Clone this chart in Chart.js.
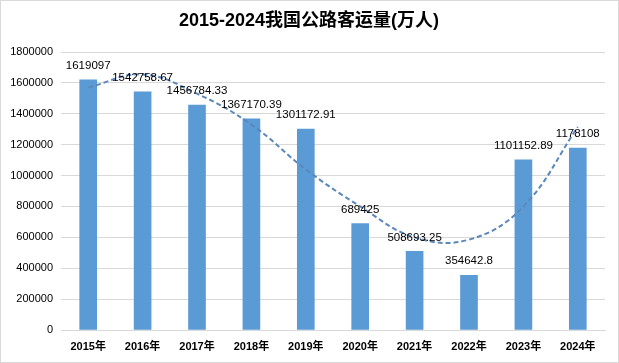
<!DOCTYPE html>
<html><head><meta charset="utf-8">
<script src="https://cdn.jsdelivr.net/npm/chart.js@4"></script>
<style>
html,body{margin:0;padding:0;background:#fff;}
#wrap{position:relative;width:619px;height:363px;}
canvas{display:block;}
</style></head>
<body><div id="wrap"><canvas id="c" width="619" height="363"></canvas></div>
<script>
const titleText = "2015-2024我国公路客运量(万人)";
const categories = ["2015年","2016年","2017年","2018年","2019年","2020年","2021年","2022年","2023年","2024年"];
const passengerVolume = [1619097, 1542758.67, 1456784.33, 1367170.39, 1301172.91, 689425, 508693.25, 354642.8, 1101152.89, 1178108];
const trendValues = [1570000, 1655000, 1530000, 1330000, 1040000, 800000, 600000, 585000, 800000, 1315000];
const yTicks = [0, 200000, 400000, 600000, 800000, 1000000, 1200000, 1400000, 1600000, 1800000];

const numFont = '"Liberation Sans", "Noto Sans CJK SC", sans-serif';

const framePlugin = {
  id: 'frame',
  beforeDraw(chart) {
    const ctx = chart.ctx;
    ctx.save();
    ctx.fillStyle = '#fff';
    ctx.fillRect(0, 0, chart.width, chart.height);
    ctx.strokeStyle = '#d9d9d9';
    ctx.lineWidth = 1;
    ctx.strokeRect(0.5, 0.5, chart.width - 1, chart.height - 1);
    ctx.fillStyle = '#000';
    ctx.font = 'bold 18px ' + numFont;
    ctx.textAlign = 'center';
    ctx.textBaseline = 'middle';
    ctx.fillText(titleText, 309, 21);
    ctx.restore();
  }
};

const labelPlugin = {
  id: 'barLabels',
  afterDatasetsDraw(chart) {
    const ctx = chart.ctx;
    const meta = chart.getDatasetMeta(0);
    ctx.save();
    ctx.fillStyle = '#000';
    ctx.font = '11.5px ' + numFont;
    ctx.textAlign = 'center';
    ctx.textBaseline = 'middle';
    meta.data.forEach((bar, i) => {
      ctx.fillText(String(passengerVolume[i]), bar.x, bar.y - 14);
    });
    ctx.restore();
  }
};

new Chart(document.getElementById('c'), {
  data: {
    labels: categories,
    datasets: [
      {
        type: 'bar',
        data: passengerVolume,
        backgroundColor: '#5b9bd5',
        barThickness: 17,
        order: 2
      },
      {
        type: 'line',
        data: trendValues,
        borderColor: '#5b87bb',
        borderWidth: 2,
        borderDash: [5, 3],
        pointRadius: 0,
        tension: 0.4,
        fill: false,
        order: 1
      }
    ]
  },
  options: {
    responsive: false,
    animation: false,
    layout: { padding: { top: 52, right: 14, left: 0, bottom: 0 } },
    plugins: { legend: { display: false }, tooltip: { enabled: false }, title: { display: false } },
    scales: {
      x: {
        grid: { display: false, drawTicks: false },
        border: { display: true, color: '#d9d9d9' },
        ticks: { color: '#000', font: { family: numFont, size: 11, weight: 'bold' }, padding: 10, maxRotation: 0 },
        afterFit(s) { s.height = 33; }
      },
      y: {
        min: 0, max: 1800000,
        afterBuildTicks(s) { s.ticks = yTicks.map(v => ({ value: v })); },
        grid: { color: '#d9d9d9', drawTicks: false },
        border: { display: false },
        ticks: { color: '#000', font: { family: numFont, size: 11 }, padding: 8, callback: v => String(v) },
        afterFit(s) { s.width = 61; }
      }
    }
  },
  plugins: [framePlugin, labelPlugin]
});
</script></body></html>
